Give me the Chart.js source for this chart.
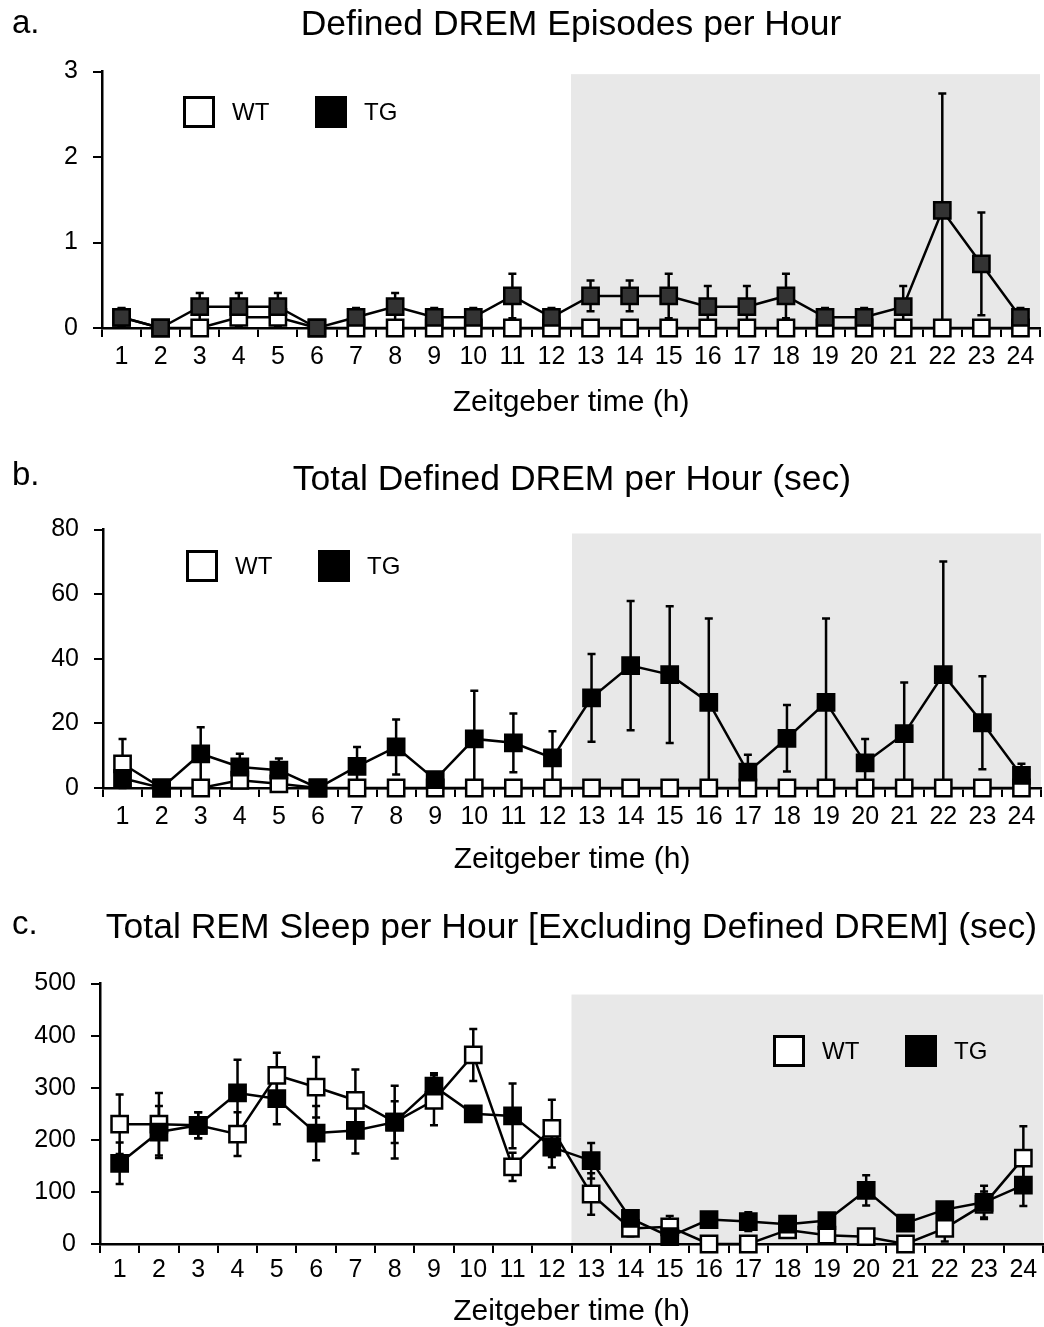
<!DOCTYPE html>
<html>
<head>
<meta charset="utf-8">
<script src="https://cdn.jsdelivr.net/npm/chart.js@4.4.1/dist/chart.umd.min.js"></script>
<style>
  body { margin: 0; background: #fff; font-family: "Liberation Sans", Arial, sans-serif; }
  #page { position: relative; width: 1044px; height: 1327px; overflow: hidden; }
  .panel { position: absolute; left: 0; width: 1044px; }
  .tag { position: absolute; left: 12px; font-size: 33px; line-height: 33px; color: #000; }
</style>
</head>
<body>
<div id="page">
  <div class="panel" style="top:0;height:440px"><canvas id="chartA"></canvas></div>
  <div class="panel" style="top:450px;height:440px"><canvas id="chartB"></canvas></div>
  <div class="panel" style="top:895px;height:432px"><canvas id="chartC"></canvas></div>
  <div class="tag" style="top:5px">a.</div>
  <div class="tag" style="top:457px">b.</div>
  <div class="tag" style="top:906px">c.</div>
</div>
<script>
// Zeitgeber hours
const hours = ["1", "2", "3", "4", "5", "6", "7", "8", "9", "10", "11", "12",
               "13", "14", "15", "16", "17", "18", "19", "20", "21", "22", "23", "24"];

// a. Defined DREM episodes per hour
const wtEpisodes    = [0.125, 0, 0, 0.125, 0.125, 0, 0, 0, 0, 0, 0, 0, 0, 0, 0, 0, 0, 0, 0, 0, 0, 0, 0, 0];
const wtEpisodesErr = [0.1, 0, 0, 0.11, 0.11, 0, 0, 0, 0, 0, 0, 0, 0, 0, 0, 0, 0, 0, 0, 0, 0, 0, 0, 0];
const tgEpisodes    = [0.125, 0, 0.25, 0.25, 0.25, 0, 0.125, 0.25, 0.125, 0.125, 0.375, 0.125,
                       0.375, 0.375, 0.375, 0.25, 0.25, 0.375, 0.125, 0.125, 0.25, 1.375, 0.75, 0.125];
const tgEpisodesErr = [0.11, 0, 0.16, 0.16, 0.16, 0, 0.11, 0.16, 0.11, 0.11, 0.26, 0.11,
                       0.18, 0.18, 0.26, 0.24, 0.24, 0.26, 0.11, 0.11, 0.24, 1.37, 0.6, 0.11];

// b. Total defined DREM per hour (sec)
const wtDrem    = [7.5, 0, 0, 2.4, 1.3, 0, 0, 0, 0, 0, 0, 0, 0, 0, 0, 0, 0, 0, 0, 0, 0, 0, 0, 0];
const wtDremErr = [7.7, 0, 0, 2, 1, 0, 0, 0, 0, 0, 0, 0, 0, 0, 0, 0, 0, 0, 0, 0, 0, 0, 0, 0];
const tgDrem    = [3, 0, 10.6, 6.5, 5.5, 0, 6.7, 12.7, 2.6, 15.2, 14, 9.3,
                   27.9, 37.9, 35.1, 26.5, 4.9, 15.4, 26.5, 7.8, 16.8, 35.1, 20.2, 3.9];
const tgDremErr = [3, 0, 8.2, 4.1, 3.6, 0, 6, 8.5, 2, 14.9, 9.1, 8.3,
                   13.6, 20, 21.2, 26, 5.4, 10.3, 26, 7.4, 15.9, 35, 14.4, 3.6];

// c. Total REM sleep per hour excluding defined DREM (sec)
const wtRem    = [230, 230, 228, 211, 324, 301, 276, 234, 276, 363, 148, 222,
                  96, 30, 33, 0, 0, 27, 17, 14, 0, 30, 76, 165];
const wtRemErr = [57, 60, 25, 42, 43, 58, 59, 40, 48, 50, 27, 55,
                  40, 15, 21, 5, 5, 10, 8, 8, 5, 25, 25, 61];
const tgRem    = [155, 215, 228, 290, 279, 213, 218, 234, 303, 250, 246, 186,
                  160, 49, 14, 47, 43, 38, 45, 103, 40, 66, 80, 113];
const tgRemErr = [40, 50, 25, 64, 49, 52, 44, 70, 25, 10, 62, 39,
                  34, 16, 10, 8, 18, 10, 8, 29, 10, 10, 32, 40];

Chart.defaults.font.family = '"Liberation Sans", Arial, sans-serif';
Chart.defaults.color = '#000';

// grey dark-phase background
const nightShade = {
  id: 'nightShade',
  beforeDraw(chart, args, opts) {
    const {ctx, chartArea, scales: {x, y}} = chart;
    const left = (x.getPixelForValue(opts.from - 1) + x.getPixelForValue(opts.from)) / 2;
    const top = y.getPixelForValue(opts.top);
    ctx.save();
    ctx.fillStyle = '#e8e8e8';
    ctx.fillRect(left, top, chartArea.right - left, y.getPixelForValue(0) - top);
    ctx.restore();
  }
};

// symmetric error bars under the markers
const errorBars = {
  id: 'errorBars',
  beforeDatasetsDraw(chart) {
    const {ctx, scales: {x, y}} = chart;
    ctx.save();
    ctx.strokeStyle = '#000';
    ctx.lineWidth = 2.5;
    chart.data.datasets.forEach(ds => {
      ds.data.forEach((v, j) => {
        const e = ds.errors[j];
        if (!e) return;
        const px = x.getPixelForValue(j);
        const yHi = y.getPixelForValue(v + e);
        const yLo = y.getPixelForValue(Math.max(v - e, y.min));
        ctx.beginPath();
        ctx.moveTo(px, yHi);
        ctx.lineTo(px, yLo);
        ctx.moveTo(px - 4, yHi);
        ctx.lineTo(px + 4, yHi);
        if (v - e >= y.min) {
          ctx.moveTo(px - 4, yLo);
          ctx.lineTo(px + 4, yLo);
        }
        ctx.stroke();
      });
    });
    ctx.restore();
  }
};

// WT / TG square legend
const boxLegend = {
  id: 'boxLegend',
  afterDatasetsDraw(chart, args, opts) {
    const {ctx} = chart;
    let x = opts.x;
    ctx.save();
    ctx.font = '24px "Liberation Sans", Arial, sans-serif';
    ctx.textBaseline = 'middle';
    chart.data.datasets.slice().reverse().forEach(ds => {
      ctx.fillStyle = ds.legendFill;
      ctx.fillRect(x, opts.y - 16, 32, 32);
      ctx.strokeStyle = '#000';
      ctx.lineWidth = 3;
      ctx.strokeRect(x + 1.5, opts.y - 14.5, 29, 29);
      ctx.fillStyle = '#000';
      ctx.fillText(ds.label, x + 49, opts.y + 1);
      x += 132;
    });
    ctx.restore();
  }
};

function makeChart(id, p) {
  return new Chart(document.getElementById(id), {
    type: 'line',
    data: {
      labels: hours,
      datasets: [
        {
          label: 'TG', data: p.tg, errors: p.tgErr, legendFill: '#000',
          borderColor: '#000', borderWidth: 2.5,
          pointStyle: 'rect', pointRadius: 11.5, pointBorderWidth: 2.5,
          pointBorderColor: '#000', pointBackgroundColor: p.tgFill,
          clip: false
        },
        {
          label: 'WT', data: p.wt, errors: p.wtErr, legendFill: '#fff',
          borderColor: '#000', borderWidth: 2.5,
          pointStyle: 'rect', pointRadius: 11.5, pointBorderWidth: 2.5,
          pointBorderColor: '#000', pointBackgroundColor: '#fff',
          clip: false
        }
      ]
    },
    options: {
      responsive: true,
      maintainAspectRatio: false,
      animation: false,
      layout: {autoPadding: false, padding: {left: 0, right: p.padRight, top: 0, bottom: 0}},
      plugins: {
        legend: {display: false},
        tooltip: {enabled: false},
        title: {
          display: true, text: p.title, fullSize: false,
          font: {size: 35.5, weight: 'normal'}, color: '#000',
          padding: {top: p.titleTop, bottom: p.titleBottom}
        },
        nightShade: {from: 12, top: p.shadeTop},
        boxLegend: p.legend
      },
      scales: {
        x: {
          offset: true,
          grid: {offset: true, drawOnChartArea: false, tickLength: 9, color: '#000', lineWidth: 2},
          border: {color: '#000', width: 2.5},
          ticks: {font: {size: 25}, padding: p.tickPad, maxRotation: 0, autoSkip: false},
          title: {
            display: true, text: 'Zeitgeber time (h)',
            font: {size: 30, lineHeight: 1}, padding: {top: 0, bottom: p.xTitlePad}
          },
          afterFit: s => {
            s.height = p.xHeight;
            s.paddingLeft = 0;
            s.paddingRight = 0;
          }
        },
        y: {
          min: 0, max: p.yMax,
          grid: {drawOnChartArea: false, tickLength: 9, color: '#000', lineWidth: 2},
          border: {color: '#000', width: 2.5},
          ticks: {stepSize: p.yStep, font: {size: 25}, padding: 15},
          afterFit: s => { s.width = p.yWidth; }
        }
      }
    },
    plugins: [nightShade, errorBars, boxLegend]
  });
}

makeChart('chartA', {
  title: 'Defined DREM Episodes per Hour',
  wt: wtEpisodes, wtErr: wtEpisodesErr, tg: tgEpisodes, tgErr: tgEpisodesErr, tgFill: '#333',
  yMax: 3, yStep: 1, shadeTop: 2.97,
  titleTop: 4, titleBottom: 25, xHeight: 112, tickPad: 5, xTitlePad: 22,
  yWidth: 102, padRight: 4,
  legend: {x: 183, y: 112}
});

makeChart('chartB', {
  title: 'Total Defined DREM per Hour (sec)',
  wt: wtDrem, wtErr: wtDremErr, tg: tgDrem, tgErr: tgDremErr, tgFill: '#000',
  yMax: 80, yStep: 20, shadeTop: 78.8,
  titleTop: 9, titleBottom: 28, xHeight: 102, tickPad: 5, xTitlePad: 15,
  yWidth: 103, padRight: 3,
  legend: {x: 186, y: 116}
});

makeChart('chartC', {
  title: 'Total REM Sleep per Hour [Excluding Defined DREM] (sec)',
  wt: wtRem, wtErr: wtRemErr, tg: tgRem, tgErr: tgRemErr, tgFill: '#000',
  yMax: 500, yStep: 100, shadeTop: 479,
  titleTop: 12, titleBottom: 34, xHeight: 83, tickPad: 2, xTitlePad: 0,
  yWidth: 100, padRight: 1,
  legend: {x: 773, y: 156}
});
</script>
</body>
</html>
